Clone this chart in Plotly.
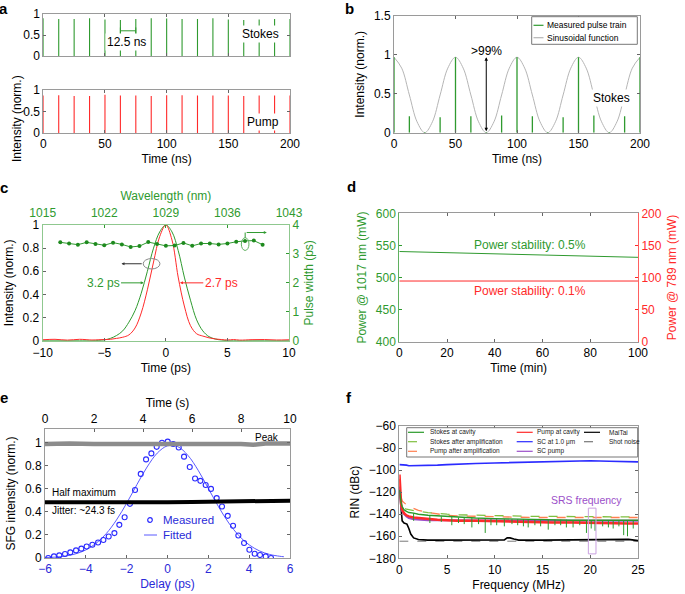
import plotly.graph_objects as go

W, H = 685, 594
GREEN = '#2f9a2f'
RED = '#ff2a2a'
BLUE = '#2b2bff'
FRAME = '#9a9a9a'
PURPLE = '#9b4fc9'
FONT = 'Liberation Sans, Arial, sans-serif'

# ---- panel a : pulse trains ----
a_time = [0, 12.5, 25, 37.5, 50, 62.5, 75, 87.5, 100, 112.5, 125, 137.5, 150, 162.5, 175, 187.5, 200]
a_stokes = [0.9, 0.88, 0.88, 0.9, 0.87, 0.86, 0.88, 0.9, 0.89, 0.88, 0.88, 0.9, 0.87, 0.86, 0.87, 0.88, 0.88]
a_pump = [0.87, 0.88, 0.86, 0.86, 0.89, 0.87, 0.87, 0.86, 0.88, 0.88, 0.87, 0.87, 0.87, 0.86, 0.87, 0.87, 0.87]

# ---- panel b : stokes vs sinusoid ----
b_pulse = [0.97, 0.21, 0.01, 0.2, 0.97, 0.21, 0.01, 0.22, 0.97, 0.21, 0.01, 0.2, 0.97, 0.22, 0.01, 0.21, 0.97]
b_sin_time = [0, 6.25, 12.5, 18.75, 25, 31.25, 37.5, 43.75, 50, 56.25, 62.5, 68.75, 75, 81.25, 87.5, 93.75,
              100, 106.25, 112.5, 118.75, 125, 131.25, 137.5, 143.75, 150, 156.25, 162.5, 168.75, 175,
              181.25, 187.5, 193.75, 200]
b_sin = [0.97, 0.83, 0.485, 0.14, 0.0, 0.14, 0.485, 0.83, 0.97, 0.83, 0.485, 0.14, 0.0, 0.14, 0.485, 0.83,
         0.97, 0.83, 0.485, 0.14, 0.0, 0.14, 0.485, 0.83, 0.97, 0.83, 0.485, 0.14, 0.0, 0.14, 0.485, 0.83, 0.97]

# ---- panel c : pulse shapes and pulse width ----
c_time = [-10, -9, -8, -7, -6, -5.5, -5, -4.5, -4, -3.5, -3, -2.5, -2, -1.5, -1, -0.5, 0, 0.5, 1, 1.5,
          2, 2.5, 3, 3.5, 4, 4.5, 5, 5.5, 6, 7, 8, 9, 10]
c_stokes = [0, 0, 0, 0, 0, 0.002, 0.006, 0.02, 0.045, 0.085, 0.16, 0.26, 0.41, 0.6, 0.8, 0.94, 1.0, 0.94,
            0.78, 0.55, 0.35, 0.18, 0.085, 0.035, 0.015, 0.005, 0, 0, 0, 0, 0, 0, 0]
c_pump = [0.008, 0.012, 0.005, 0.012, 0.006, 0.008, 0.01, 0.012, 0.02, 0.03, 0.05, 0.11, 0.24, 0.44, 0.68,
          0.9, 1.0, 0.87, 0.55, 0.3, 0.13, 0.06, 0.04, 0.025, 0.015, 0.01, 0.006, 0.01, 0.005, 0.009, 0.01,
          0.006, 0.008]
c_wavelength = [1017, 1018, 1019, 1020, 1021, 1022, 1023, 1024, 1025, 1026, 1027, 1028, 1029, 1030, 1031,
                1032, 1033, 1034, 1035, 1036, 1037, 1038, 1039, 1040]
c_width = [3.40, 3.36, 3.32, 3.40, 3.34, 3.30, 3.39, 3.33, 3.24, 3.27, 3.41, 3.34, 3.28, 3.29, 3.38, 3.28,
           3.36, 3.36, 3.33, 3.36, 3.42, 3.45, 3.46, 3.32]

# ---- panel d : power stability ----
d_time = [0, 5, 10, 15, 20, 25, 30, 35, 40, 45, 50, 55, 60, 65, 70, 75, 80, 85, 90, 95, 100]
d_stokes = [540.5, 540, 539.6, 539, 538.6, 538, 537.6, 537.2, 536.5, 536, 535.5, 535.2, 534.6, 534, 533.6,
            533.4, 533, 532.5, 532, 531.6, 531.4]
d_pump_time = [0, 25, 50, 75, 100]
d_pump = [94.5, 94.5, 94.5, 94.5, 94.5]

# ---- panel e : SFG cross-correlation ----
e_delay = [-5.84, -5.56, -5.3, -5.02, -4.76, -4.48, -4.22, -3.96, -3.68, -3.4, -3.14, -2.88, -2.6, -2.36,
           -2.1, -1.84, -1.59, -1.31, -1.05, -0.79, -0.53, -0.27, 0.01, 0.28, 0.55, 0.81, 1.09, 1.35, 1.61,
           1.87, 2.13, 2.41, 2.67, 2.95, 3.21, 3.47, 3.75, 4.01, 4.27, 4.53, 4.81, 5.07]
e_measured = [0.0, 0.014, 0.023, 0.035, 0.049, 0.066, 0.081, 0.1, 0.115, 0.135, 0.156, 0.187, 0.216, 0.288,
              0.354, 0.47, 0.59, 0.73, 0.856, 0.908, 0.965, 1.0, 1.01, 0.99, 0.96, 0.88, 0.79, 0.69, 0.67,
              0.634, 0.6, 0.52, 0.447, 0.366, 0.28, 0.196, 0.13, 0.072, 0.037, 0.026, 0.014, 0.0]
e_fit_delay = [-6, -5.5, -5, -4.5, -4, -3.5, -3, -2.5, -2, -1.5, -1, -0.5, 0, 0.5, 1, 1.5, 2, 2.5, 3, 3.5,
               4, 4.5, 5, 5.5, 5.7]
e_fit = [0.0045, 0.0076, 0.017, 0.036, 0.07, 0.127, 0.212, 0.33, 0.476, 0.637, 0.79, 0.911, 0.974, 0.967,
         0.891, 0.762, 0.604, 0.445, 0.304, 0.193, 0.114, 0.062, 0.031, 0.015, 0.011]
e_time = [0, 1, 2, 3, 4, 5, 6, 7, 8, 8.5, 9, 10]
e_peak = [0.99, 0.995, 0.99, 0.99, 0.995, 0.99, 0.99, 0.995, 0.99, 0.983, 0.995, 0.995]
e_half = [0.483, 0.482, 0.484, 0.485, 0.483, 0.484, 0.486, 0.488, 0.49, 0.493, 0.496, 0.498]

# ---- panel f : RIN ----
f_freq = [0.02, 0.1, 0.2, 0.3, 0.5, 0.75, 1, 1.5, 2, 3, 4, 5, 6, 8, 10, 12, 14, 16, 18, 20, 22, 24, 25]
f_sc = [-95, -95, -95.5, -95.5, -95.5, -95.5, -96, -96, -96, -95.5, -95.5, -95, -94.5, -94, -93.5, -93,
        -92.5, -92, -91.5, -91.5, -92, -92.5, -92.5]
f_pump_cav = [-104, -125, -132, -136, -139, -141, -142, -143, -143.5, -144.5, -145, -145.5, -146, -146,
              -146.5, -147, -147, -147.5, -147.5, -148, -148, -148.5, -148.5]
f_sc_pump = [-115, -128, -134, -137, -140, -142, -143.5, -144.5, -145, -145.5, -145.5, -145.5, -146, -146,
             -146, -146, -146, -146, -146, -146, -146, -146, -146]
f_stokes_cav = [-118, -124, -130, -133, -136, -137.5, -138.5, -139, -140, -141, -141.5, -142.5, -143,
                -143.5, -144, -144.5, -145, -145, -145.5, -145.5, -145.5, -145.5, -145.5]
f_stokes_amp = [-120, -126, -130, -132, -134.5, -135.5, -136, -137, -137.5, -138.5, -139.5, -140, -140.5,
                -141, -141.5, -141.5, -142, -142, -142, -142, -142, -142.5, -142.5]
f_pump_amp = [-108, -120, -125, -128, -130, -131.5, -133, -135, -136.5, -138.5, -140, -141, -141.5, -142,
              -142.5, -142.5, -143, -143, -143, -143, -143, -143, -143]
f_mt_freq = [0.02, 0.1, 0.2, 0.3, 0.5, 0.8, 1.0, 1.2, 1.5, 2, 3, 5, 8, 10, 11, 11.3, 11.6, 12, 12.5, 15,
             18, 20, 22, 24, 25]
f_maitai = [-118, -125, -140, -146, -148, -149, -153, -158, -161.5, -163, -163.5, -163.5, -163.5, -163.5,
            -163.3, -161.5, -161.5, -162.5, -163.5, -163.5, -163.3, -162.8, -162.5, -162.8, -164]
f_shot_freq = [0, 25]
f_shot = [-164.5, -164.5]
f_spike_freq = [1.5, 3.2, 4.4, 5.5, 6.2, 6.8, 7.6, 8.3, 9.0, 9.6, 10.2, 11.0, 11.8, 12.4, 13.0, 13.5, 14.2,
                14.8, 15.6, 16.3, 16.9, 17.5, 18.2, 18.9, 19.6, 20.1, 20.5, 21.3, 21.9, 22.4, 23.0, 23.5,
                23.9, 24.5]
f_spike_low = [-146, -148, -147, -150, -148, -149, -152, -149, -157, -150, -150, -151, -149, -150, -151,
               -152, -150, -151, -154, -150, -150, -152, -152, -150, -157, -153, -155, -151, -152, -153,
               -151, -159, -160, -153]
f_spike_base = [-139, -141, -142, -142.5, -143, -143, -143.5, -143.5, -144, -144, -144, -144.5, -144.5,
                -144.5, -144.5, -145, -145, -145, -145, -145, -145, -145, -145.5, -145.5, -145.5, -145.5,
                -145.5, -145.5, -145.5, -145.5, -145.5, -145.5, -145.5, -145.5]


def sticks(xs, tops, bases=None):
    # vertical line segments from base to value, separated by gaps
    sx, sy = [], []
    for i, (x, y) in enumerate(zip(xs, tops)):
        b = 0 if bases is None else bases[i]
        sx += [x, x, None]
        sy += [b, y, None]
    return sx, sy


def px(x):
    return x / W


def py(y):
    return 1 - y / H


fig = go.Figure()

# a
sx, sy = sticks(a_time, a_stokes)
fig.add_trace(go.Scatter(x=sx, y=sy, mode='lines', line=dict(color=GREEN, width=1.1), xaxis='x', yaxis='y'))
sx, sy = sticks(a_time, a_pump)
fig.add_trace(go.Scatter(x=sx, y=sy, mode='lines', line=dict(color=RED, width=1.1), xaxis='x2', yaxis='y2'))

# b
fig.add_trace(go.Scatter(x=b_sin_time, y=b_sin, mode='lines', line=dict(color='#b5b5b5', width=1, shape='spline'),
                         xaxis='x3', yaxis='y3'))
sx, sy = sticks(a_time, b_pulse)
fig.add_trace(go.Scatter(x=sx, y=sy, mode='lines', line=dict(color=GREEN, width=1.3), xaxis='x3', yaxis='y3'))

# c
fig.add_trace(go.Scatter(x=c_time, y=c_stokes, mode='lines', line=dict(color=GREEN, width=1, shape='spline'),
                         xaxis='x4', yaxis='y4'))
fig.add_trace(go.Scatter(x=c_time, y=c_pump, mode='lines', line=dict(color=RED, width=1, shape='spline'),
                         xaxis='x4', yaxis='y4'))
fig.add_trace(go.Scatter(x=c_wavelength, y=c_width, mode='lines+markers', line=dict(color=GREEN, width=1),
                         marker=dict(color='#1e8a1e', size=4), xaxis='x5', yaxis='y5'))

# d
fig.add_trace(go.Scatter(x=d_time, y=d_stokes, mode='lines', line=dict(color=GREEN, width=1),
                         xaxis='x6', yaxis='y6'))
fig.add_trace(go.Scatter(x=d_pump_time, y=d_pump, mode='lines', line=dict(color=RED, width=1),
                         xaxis='x6', yaxis='y7'))

# e
fig.add_trace(go.Scatter(x=e_time, y=e_peak, mode='lines', line=dict(color='#8c8c8c', width=4.5),
                         xaxis='x9', yaxis='y8'))
fig.add_trace(go.Scatter(x=e_time, y=e_half, mode='lines', line=dict(color='black', width=4),
                         xaxis='x9', yaxis='y8'))
fig.add_trace(go.Scatter(x=e_fit_delay, y=e_fit, mode='lines', line=dict(color='#5a5aff', width=1, shape='spline'),
                         xaxis='x8', yaxis='y8'))
fig.add_trace(go.Scatter(x=e_delay, y=e_measured, mode='markers',
                         marker=dict(symbol='circle-open', color='#2a2aff', size=5, line=dict(width=1.1)),
                         xaxis='x8', yaxis='y8'))

# f
f_lines = [
    (f_shot_freq, f_shot, '#777777', 'dash', 1),
    (f_mt_freq, f_maitai, 'black', 'solid', 1.6),
    (f_freq, f_sc, BLUE, 'solid', 1.6),
    (f_freq, f_pump_amp, '#ff7f50', 'dash', 1.3),
    (f_freq, f_stokes_amp, '#7fbf3f', 'dash', 1.3),
    (f_freq, f_sc_pump, PURPLE, 'solid', 2),
    (f_freq, f_pump_cav, RED, 'solid', 2.5),
    (f_freq, f_stokes_cav, '#2a9a2a', 'solid', 1.4),
]
for xs, ys, col, dash, wd in f_lines:
    fig.add_trace(go.Scatter(x=xs, y=ys, mode='lines', line=dict(color=col, dash=dash, width=wd),
                             xaxis='x10', yaxis='y10'))
sx, sy = sticks(f_spike_freq, f_spike_low, f_spike_base)
fig.add_trace(go.Scatter(x=sx, y=sy, mode='lines', line=dict(color='#2a9a2a', width=1), xaxis='x10', yaxis='y10'))


def axis(**kw):
    d = dict(showline=True, linecolor=FRAME, linewidth=1, mirror='ticks', ticks='inside', ticklen=3,
             tickcolor='#666666', showgrid=False, zeroline=False, automargin=False,
             tickfont=dict(size=12, color='black'), title=dict(font=dict(size=12, color='black')))
    d.update(kw)
    return d


def dx(a, b):
    return [a / W, b / W]


def dy(top, bottom):
    return [1 - bottom / H, 1 - top / H]


green_font = dict(size=12, color=GREEN)
red_font = dict(size=12, color=RED)
blue_font = dict(size=12, color='#2a2ad8')

fig.update_layout(
    width=W, height=H, autosize=False, showlegend=False,
    margin=dict(l=0, r=0, t=0, b=0),
    paper_bgcolor='white', plot_bgcolor='white',
    font=dict(family=FONT, size=12, color='black'),
    # a
    xaxis=axis(domain=dx(43.3, 290), anchor='y', range=[0, 200], showticklabels=False, tickvals=[0, 50, 100, 150, 200]),
    yaxis=axis(domain=dy(14, 56), anchor='x', range=[0, 1], tickvals=[0, 0.5, 1]),
    xaxis2=axis(domain=dx(43.3, 290), anchor='y2', range=[0, 200], tickvals=[0, 50, 100, 150, 200],
                title=dict(text='Time (ns)', font=dict(size=12), standoff=4)),
    yaxis2=axis(domain=dy(90, 133), anchor='x2', range=[0, 1], tickvals=[0, 0.5, 1]),
    # b
    xaxis3=axis(domain=dx(394, 640), anchor='y3', range=[0, 200], tickvals=[0, 50, 100, 150, 200],
                title=dict(text='Time (ns)', font=dict(size=12), standoff=4)),
    yaxis3=axis(domain=dy(16, 132.7), anchor='x3', range=[0, 1.5], tickvals=[0, 0.5, 1, 1.5],
                title=dict(text='Intensity (norm.)', font=dict(size=12), standoff=6)),
    # c
    xaxis4=axis(domain=dx(42.7, 289), anchor='y4', range=[-10, 10], tickvals=[-10, -5, 0, 5, 10], mirror=False,
                linecolor='#8fc88f', ticklabelstandoff=1,
                title=dict(text='Time (ps)', font=dict(size=12), standoff=4)),
    yaxis4=axis(domain=dy(225, 340.7), anchor='x4', range=[0, 1], dtick=0.2, mirror=False, linecolor='#8fc88f',
                title=dict(text='Intensity (norm.)', font=dict(size=12), standoff=6)),
    xaxis5=axis(overlaying='x4', anchor='y4', side='top', range=[1015, 1043],
                tickvals=[1015, 1022, 1029, 1036, 1043], mirror=False, linecolor='#8fc88f', tickcolor=GREEN,
                tickfont=green_font, ticklabelstandoff=2,
                title=dict(text='Wavelength (nm)', font=green_font, standoff=3)),
    yaxis5=axis(overlaying='y4', anchor='x4', side='right', range=[0, 4], dtick=1, mirror=False,
                linecolor='#8fc88f', tickcolor=GREEN, tickfont=green_font,
                title=dict(text='Pulse width (ps)', font=green_font, standoff=6)),
    # d
    xaxis6=axis(domain=dx(399.3, 638), anchor='y6', range=[0, 100], dtick=20,
                title=dict(text='Time (min)', font=dict(size=12), standoff=4)),
    yaxis6=axis(domain=dy(213.3, 341.7), anchor='x6', range=[400, 600], dtick=50, mirror=False,
                linecolor='#5fb05f', tickcolor=GREEN, tickfont=green_font,
                title=dict(text='Power @ 1017 nm (mW)', font=green_font, standoff=6)),
    yaxis7=axis(overlaying='y6', anchor='x6', side='right', range=[0, 200], dtick=50, mirror=False,
                linecolor='#ff6060', tickcolor=RED, tickfont=red_font,
                title=dict(text='Power @ 789 nm (mW)', font=red_font, standoff=6)),
    # e
    xaxis8=axis(domain=dx(45, 290), anchor='y8', range=[-6, 6], dtick=2, mirror=False, tickfont=blue_font,
                title=dict(text='Delay (ps)', font=blue_font, standoff=4)),
    yaxis8=axis(domain=dy(429, 558), anchor='x8', range=[0, 1.12], tickvals=[0, 0.2, 0.4, 0.6, 0.8, 1],
                title=dict(text='SFG intensity (norm.)', font=dict(size=12), standoff=6)),
    xaxis9=axis(overlaying='x8', anchor='y8', side='top', range=[0, 10], dtick=2, mirror=False,
                title=dict(text='Time (s)', font=dict(size=12), standoff=2)),
    # f
    xaxis10=axis(domain=dx(399.3, 638), anchor='y10', range=[0, 25], dtick=5,
                 title=dict(text='Frequency (MHz)', font=dict(size=12), standoff=4)),
    yaxis10=axis(domain=dy(426, 558.3), anchor='x10', range=[-180, -60], dtick=20,
                 title=dict(text='RIN (dBc)', font=dict(size=12), standoff=6)),
)

ann = []
shapes = []

# panel letters
for letter, x, y in [('a', 3.5, 8), ('b', 349, 8), ('c', 3.5, 187), ('d', 351, 186), ('e', 4, 397), ('f', 349, 397)]:
    ann.append(dict(xref='paper', yref='paper', x=px(x), y=py(y), text='<b>%s</b>' % letter, showarrow=False,
                    xanchor='center', yanchor='middle', font=dict(size=15, color='black')))

# a
ann.append(dict(xref='paper', yref='paper', x=px(8), y=py(73.5), text='Intensity (norm.)', textangle=-90,
                showarrow=False, font=dict(size=12)))
ann.append(dict(xref='x', yref='y', x=176, y=0.52, text='Stokes', showarrow=False, bgcolor='white',
                font=dict(size=12)))
ann.append(dict(xref='x2', yref='y2', x=178, y=0.26, text='Pump', showarrow=False, bgcolor='white',
                font=dict(size=12)))
ann.append(dict(xref='x', yref='y', x=67.6, y=0.34, text='12.5 ns', showarrow=False, bgcolor='white',
                font=dict(size=12)))
for x0, x1, y0, y1 in [(62.5, 62.5, 0.52, 0.68), (75, 75, 0.52, 0.68), (62.5, 75, 0.6, 0.6)]:
    shapes.append(dict(type='line', xref='x', yref='y', x0=x0, x1=x1, y0=y0, y1=y1,
                       line=dict(color=GREEN, width=1)))

# b
ann.append(dict(xref='x3', yref='y3', x=177, y=0.45, text='Stokes', showarrow=False, bgcolor='white',
                font=dict(size=12)))
ann.append(dict(xref='x3', yref='y3', x=75, y=1.045, text='>99%', showarrow=False, font=dict(size=12)))
ann.append(dict(xref='x3', yref='y3', axref='x3', ayref='y3', x=75, y=0.97, ax=75, ay=0.0, text='',
                showarrow=True, arrowside='end+start', arrowhead=2, arrowsize=0.7, arrowwidth=1,
                arrowcolor='black'))

# c
ann.append(dict(xref='x4', yref='y4', axref='x4', ayref='y4', x=-1.8, y=0.5, ax=-5.1, ay=0.5, text='3.2 ps',
                showarrow=True, arrowhead=2, arrowsize=0.6, arrowwidth=1, arrowcolor=GREEN,
                font=green_font))
ann.append(dict(xref='x4', yref='y4', axref='x4', ayref='y4', x=1.15, y=0.5, ax=4.5, ay=0.5, text='2.7 ps',
                showarrow=True, arrowhead=2, arrowsize=0.6, arrowwidth=1, arrowcolor=RED,
                font=red_font))
shapes.append(dict(type='circle', xref='x4', yref='y4', x0=-1.84, x1=-0.48, y0=0.62, y1=0.71,
                   line=dict(color='#888888', width=1)))
ann.append(dict(xref='x4', yref='y4', axref='x4', ayref='y4', x=-3.6, y=0.665, ax=-1.84, ay=0.665, text='',
                showarrow=True, arrowhead=2, arrowsize=0.6, arrowwidth=1, arrowcolor='#333333'))
shapes.append(dict(type='circle', xref='x4', yref='y4', x0=6.13, x1=6.75, y0=0.78, y1=0.89,
                   line=dict(color='#5fb05f', width=1)))
shapes.append(dict(type='line', xref='x4', yref='y4', x0=6.44, x1=6.44, y0=0.89, y1=0.935,
                   line=dict(color=GREEN, width=1)))
ann.append(dict(xref='x4', yref='y4', axref='x4', ayref='y4', x=8.2, y=0.935, ax=6.44, ay=0.935, text='',
                showarrow=True, arrowhead=2, arrowsize=0.6, arrowwidth=1, arrowcolor=GREEN))

# d
ann.append(dict(xref='x6', yref='y6', x=54.7, y=550.6, text='Power stability: 0.5%', showarrow=False,
                font=green_font))
ann.append(dict(xref='x6', yref='y6', x=54.7, y=479.5, text='Power stability: 0.1%', showarrow=False,
                font=red_font))

# e
ann.append(dict(xref='x9', yref='y8', x=9.05, y=1.05, text='Peak', showarrow=False, font=dict(size=10)))
ann.append(dict(xref='x8', yref='y8', x=-5.75, y=0.57, text='Half maximum', showarrow=False, xanchor='left',
                font=dict(size=10)))
ann.append(dict(xref='x8', yref='y8', x=-5.75, y=0.41, text='Jitter: ~24.3 fs', showarrow=False,
                xanchor='left', font=dict(size=10)))
shapes.append(dict(type='circle', xref='paper', yref='paper', x0=px(147.7), x1=px(152.3), y0=py(522.3),
                   y1=py(517.7), line=dict(color='#2a2aff', width=1.2)))
shapes.append(dict(type='line', xref='paper', yref='paper', x0=px(144), x1=px(157), y0=py(535), y1=py(535),
                   line=dict(color='#5a5aff', width=1)))
for txt, y in [('Measured', 520), ('Fitted', 535)]:
    ann.append(dict(xref='paper', yref='paper', x=px(160.5), y=py(y), text=txt, showarrow=False,
                    xanchor='left', yanchor='middle', font=dict(size=11.5, color='#2a2ad8')))

# b legend
shapes.append(dict(type='rect', xref='paper', yref='paper', x0=px(531.7), x1=px(637.3), y0=py(44.3),
                   y1=py(16.7), line=dict(color='#777777', width=1), fillcolor='white', layer='above'))
for txt, col, y in [('Measured pulse train', GREEN, 25.3), ('Sinusoidal function', '#b5b5b5', 37.7)]:
    shapes.append(dict(type='line', xref='paper', yref='paper', x0=px(533.5), x1=px(543.5), y0=py(y),
                       y1=py(y), line=dict(color=col, width=1.2)))
    ann.append(dict(xref='paper', yref='paper', x=px(545), y=py(y), text=txt, showarrow=False, xanchor='left',
                    yanchor='middle', font=dict(size=8.5)))

# f
ann.append(dict(xref='x10', yref='y10', x=19.6, y=-127, text='SRS frequency', showarrow=False,
                font=dict(size=10.5, color=PURPLE)))
shapes.append(dict(type='rect', xref='x10', yref='y10', x0=19.8, x1=20.6, y0=-176, y1=-134.5,
                   line=dict(color='#c9a0e0', width=1)))
shapes.append(dict(type='rect', xref='paper', yref='paper', x0=px(406.7), x1=px(637.7), y0=py(457),
                   y1=py(427.7), line=dict(color='#777777', width=1), fillcolor='white', layer='above'))
f_legend = [
    ('Stokes at cavity', '#2a9a2a', 'solid', 408, 427.5, 432.3),
    ('Stokes after amplification', '#7fbf3f', 'dash', 408, 427.5, 441.7),
    ('Pump after amplification', '#ff7f50', 'dash', 408, 427.5, 451.3),
    ('Pump at cavity', RED, 'solid', 516.7, 534.5, 432.3),
    ('SC at 1.0 \u03bcm', BLUE, 'solid', 516.7, 534.5, 441.7),
    ('SC pump', PURPLE, 'solid', 516.7, 534.5, 451.3),
    ('MaiTai', 'black', 'solid', 584, 606.5, 432.3),
    ('Shot noise', '#777777', 'dash', 584, 606.5, 441.7),
]
for txt, col, dash, lx, tx, y in f_legend:
    shapes.append(dict(type='line', xref='paper', yref='paper', x0=px(lx), x1=px(lx + 16), y0=py(y), y1=py(y),
                       line=dict(color=col, width=1.2, dash=dash), layer='above'))
    ann.append(dict(xref='paper', yref='paper', x=px(tx), y=py(y), text=txt, showarrow=False, xanchor='left',
                    yanchor='middle', font=dict(size=6.5, color='#222222')))

fig.update_layout(annotations=ann, shapes=shapes)

# the page body has a default 8px margin; drop it so the figure sits at the window corner
fig.write_html("out.html", config={'displayModeBar': False},
               post_script="document.body.style.margin='0';")
